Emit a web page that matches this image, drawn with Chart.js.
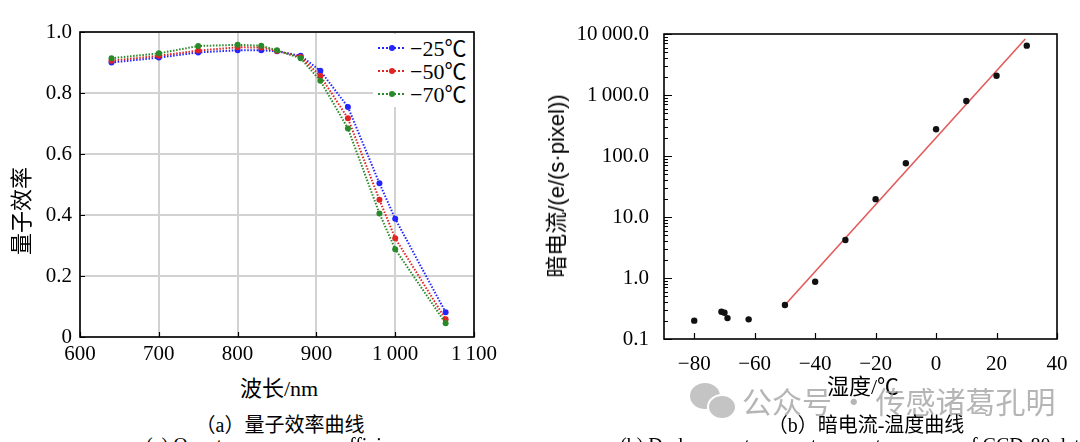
<!DOCTYPE html>
<html>
<head>
<meta charset="utf-8">
<script src="https://cdn.jsdelivr.net/npm/chart.js@4.4.1/dist/chart.umd.min.js"></script>
<style>
  html, body { margin: 0; padding: 0; background: #fff; }
  #wrap { position: relative; width: 1080px; height: 442px; overflow: hidden; background: #fff;
          font-family: "Liberation Serif", "Noto Sans CJK SC", serif; color: #000; }
  .box { position: absolute; top: 0; width: 540px; height: 370px; }
  .lbl { position: absolute; white-space: nowrap; transform: translate(-50%, -50%); }
  .rot { transform: translate(-50%, -50%) rotate(-90deg); }
  #legend { position: absolute; left: 373px; top: 34px; width: 100px; height: 73px; background: #fff;
            padding-top: 3px; box-sizing: border-box; }
  .row { height: 23px; line-height: 23px; font-size: 22px; white-space: nowrap; }
  .sw { display: inline-block; position: relative; width: 28px; height: 2px; margin: 0 4px 6px 5px;
        vertical-align: middle; background-size: 4px 2px; }
  .sw::after { content: ""; position: absolute; left: 11px; top: -2px; width: 6px; height: 6px;
               border-radius: 50%; background: var(--c); }
  #wm { position: absolute; left: 742px; top: 378px; font-size: 30px; color: rgba(150,150,150,0.7);
        font-family: "Noto Sans CJK SC", sans-serif; white-space: nowrap; }
  .bub { position: absolute; border-radius: 50%; background: #c4c4c4; }
  .cut { position: absolute; top: 434px; font-size: 20px; white-space: nowrap; }
</style>
</head>
<body>
<div id="wrap">
  <div class="box" style="left:0"><canvas id="qe" width="540" height="370"></canvas></div>
  <div class="box" style="left:540px"><canvas id="dc" width="540" height="370"></canvas></div>

  <div id="legend"></div>

  <div class="lbl rot" style="left:19px; top:211px; font-size:22px;">量子效率</div>
  <div class="lbl" style="left:279px; top:386px; font-size:22px;">波长/nm</div>
  <div class="lbl" style="left:280px; top:423px; font-size:20px;">（a）量子效率曲线</div>

  <div class="lbl rot" style="left:554px; top:186px; font-size:22px; font-family:'Liberation Sans','Noto Sans CJK SC',sans-serif;">暗电流/(e/(s·pixel))</div>
  <div class="lbl" style="left:863px; top:384px; font-size:22px;">湿度/℃</div>

  <div class="bub" style="left:690px; top:383px; width:30px; height:26px;"></div>
  <div class="bub" style="left:707px; top:394px; width:26px; height:22px; border:2px solid #fff;"></div>
  <div id="wm">公众号 · 传感诸葛孔明</div>

  <div class="lbl" style="left:866px; top:423px; font-size:20px;">（b）暗电流-温度曲线</div>

  <div class="cut" style="left:146px;">(a) Quantum</div>
  <div class="cut" style="left:340px;">efficiency curve</div>
  <div class="cut" style="left:620px;">(b) Dark current versus temperature curve of CCD-80 detector</div>
</div>

<script>
// ---- (a) quantum efficiency data ----
const wavelengths = [640, 700, 750, 800, 830, 850, 880, 905, 940, 980, 1000, 1064];
const qeMinus25 = [0.900, 0.916, 0.933, 0.940, 0.940, 0.937, 0.922, 0.873, 0.754, 0.504, 0.388, 0.081];
const qeMinus50 = [0.906, 0.922, 0.939, 0.950, 0.949, 0.938, 0.918, 0.856, 0.717, 0.450, 0.324, 0.058];
const qeMinus70 = [0.914, 0.930, 0.954, 0.958, 0.955, 0.940, 0.914, 0.840, 0.684, 0.405, 0.288, 0.045];
const qeSeriesNames = ['\u221225\u2103', '\u221250\u2103', '\u221270\u2103'];
const qeXTicks = [600, 700, 800, 900, 1000, 1100];
const qeYTicks = [0, 0.2, 0.4, 0.6, 0.8, 1.0];

// ---- (b) dark current data ----
const temperatures = [-80, -71, -70, -69, -62, -50, -40, -30, -20, -10, 0, 10, 20, 30];
const darkCurrent = [0.20, 0.28, 0.27, 0.22, 0.21, 0.36, 0.87, 4.2, 19.6, 76, 275, 796, 2065, 6440];
const fitTemps = [-50, 29.5];
const fitValues = [0.36, 8300];
const dcXTicks = [-80, -60, -40, -20, 0, 20, 40];
const dcYMajors = [0.1, 1, 10, 100, 1000, 10000];
const dcYLabels = ['0.1', '1.0', '10.0', '100.0', '1\u2009000.0', '10\u2009000.0'];

const serif = "'Liberation Serif', 'Times New Roman', serif";
const tickFont = { family: serif, size: 21 };
Chart.defaults.font.family = serif;
Chart.defaults.font.size = 21;
Chart.defaults.color = '#000';

const colors = ['#2424ff', '#e02424', '#2a8a2a'];

// legend (html, sits over the plot's top-right corner)
const legendEl = document.getElementById('legend');
qeSeriesNames.forEach((name, i) => {
    const c = colors[i];
    legendEl.insertAdjacentHTML('beforeend',
        `<div class="row"><span class="sw" style="--c:${c};background-image:linear-gradient(90deg, ${c} 50%, transparent 50%)"></span>${name}</div>`);
});

// draws the black frame plus short inward tick marks
const frameTicks = {
    id: 'frameTicks',
    afterDraw(chart, args, opts) {
        const { ctx, chartArea: a, scales } = chart;
        ctx.save();
        ctx.strokeStyle = '#000';
        ctx.lineWidth = 1.2;
        ctx.beginPath();
        scales.x.ticks.forEach(t => {
            const x = Math.round(scales.x.getPixelForValue(t.value)) + 0.5;
            ctx.moveTo(x, a.bottom);
            ctx.lineTo(x, a.bottom - opts.xLen);
        });
        scales.y.ticks.forEach(t => {
            const y = Math.round(scales.y.getPixelForValue(t.value)) + 0.5;
            const major = !opts.logY || Math.abs(Math.log10(t.value) % 1) < 1e-6;
            ctx.moveTo(a.left, y);
            ctx.lineTo(a.left + (major ? opts.yLen : opts.yMinorLen), y);
        });
        ctx.stroke();
        ctx.lineWidth = 1.6;
        ctx.strokeRect(a.left, a.top, a.right - a.left, a.bottom - a.top);
        ctx.restore();
    }
};

const pts = (xs, ys) => xs.map((x, i) => ({ x: x, y: ys[i] }));
const withSpace = v => v >= 1000 ? Math.floor(v / 1000) + '\u2009' + String(v % 1000).padStart(3, '0') : String(v);

const qeSeries = [qeMinus25, qeMinus50, qeMinus70];

new Chart(document.getElementById('qe'), {
    type: 'scatter',
    data: {
        datasets: qeSeries.map((vals, i) => ({
            label: qeSeriesNames[i],
            data: pts(wavelengths, vals),
            showLine: true,
            borderColor: colors[i],
            borderWidth: 2,
            borderDash: [1.5, 1.6],
            backgroundColor: colors[i],
            pointRadius: 3,
            pointBorderWidth: 0,
            order: 2 - i
        }))
    },
    options: {
        responsive: false,
        animation: false,
        layout: { padding: { left: 0, right: 66, top: 32, bottom: 0 } },
        plugins: { legend: { display: false }, tooltip: { enabled: false },
                   frameTicks: { xLen: 5, yLen: 5, yMinorLen: 5, logY: false } },
        scales: {
            x: {
                type: 'linear', min: 600, max: 1100,
                afterBuildTicks: s => { s.ticks = qeXTicks.map(v => ({ value: v })); },
                afterFit: s => { s.height = 33; },
                ticks: { font: tickFont, callback: v => withSpace(v), padding: 5, maxRotation: 0, autoSkip: false },
                grid: { color: '#d2d2d2', lineWidth: 2, drawTicks: false },
                border: { display: false }
            },
            y: {
                min: 0, max: 1,
                afterBuildTicks: s => { s.ticks = qeYTicks.map(v => ({ value: v })); },
                afterFit: s => { s.width = 80; },
                ticks: { font: tickFont, callback: v => v === 0 ? '0' : v.toFixed(1), padding: 8, autoSkip: false },
                grid: { color: '#d2d2d2', lineWidth: 2, drawTicks: false },
                border: { display: false }
            }
        }
    },
    plugins: [frameTicks]
});

new Chart(document.getElementById('dc'), {
    type: 'scatter',
    data: {
        datasets: [
            {
                data: pts(temperatures, darkCurrent),
                backgroundColor: '#111',
                pointRadius: 3.2,
                pointBorderWidth: 0
            },
            {
                data: pts(fitTemps, fitValues),
                showLine: true,
                borderColor: '#e25a5a',
                borderWidth: 1.6,
                pointRadius: 0
            }
        ]
    },
    options: {
        responsive: false,
        animation: false,
        layout: { padding: { left: 0, right: 23, top: 34, bottom: 0 } },
        plugins: { legend: { display: false }, tooltip: { enabled: false },
                   frameTicks: { xLen: 6, yLen: 8, yMinorLen: 4, logY: true } },
        scales: {
            x: {
                type: 'linear', min: -90, max: 40,
                afterBuildTicks: s => { s.ticks = dcXTicks.map(v => ({ value: v })); },
                afterFit: s => { s.height = 31; },
                ticks: { font: tickFont, callback: v => v < 0 ? '\u2212' + Math.abs(v) : String(v), padding: 5, maxRotation: 0, autoSkip: false },
                grid: { display: false },
                border: { display: false }
            },
            y: {
                type: 'logarithmic', min: 0.1, max: 10000,
                afterBuildTicks: s => {
                    const t = [];
                    dcYMajors.forEach((m, i) => {
                        t.push({ value: m });
                        if (i < dcYMajors.length - 1) {
                            for (let k = 2; k <= 9; k++) t.push({ value: m * k });
                        }
                    });
                    s.ticks = t;
                },
                afterFit: s => { s.width = 124; },
                ticks: {
                    font: tickFont,
                    callback: v => { const i = dcYMajors.indexOf(v); return i >= 0 ? dcYLabels[i] : ''; },
                    padding: 7, autoSkip: false
                },
                grid: { display: false },
                border: { display: false }
            }
        }
    },
    plugins: [frameTicks]
});
</script>
</body>
</html>
